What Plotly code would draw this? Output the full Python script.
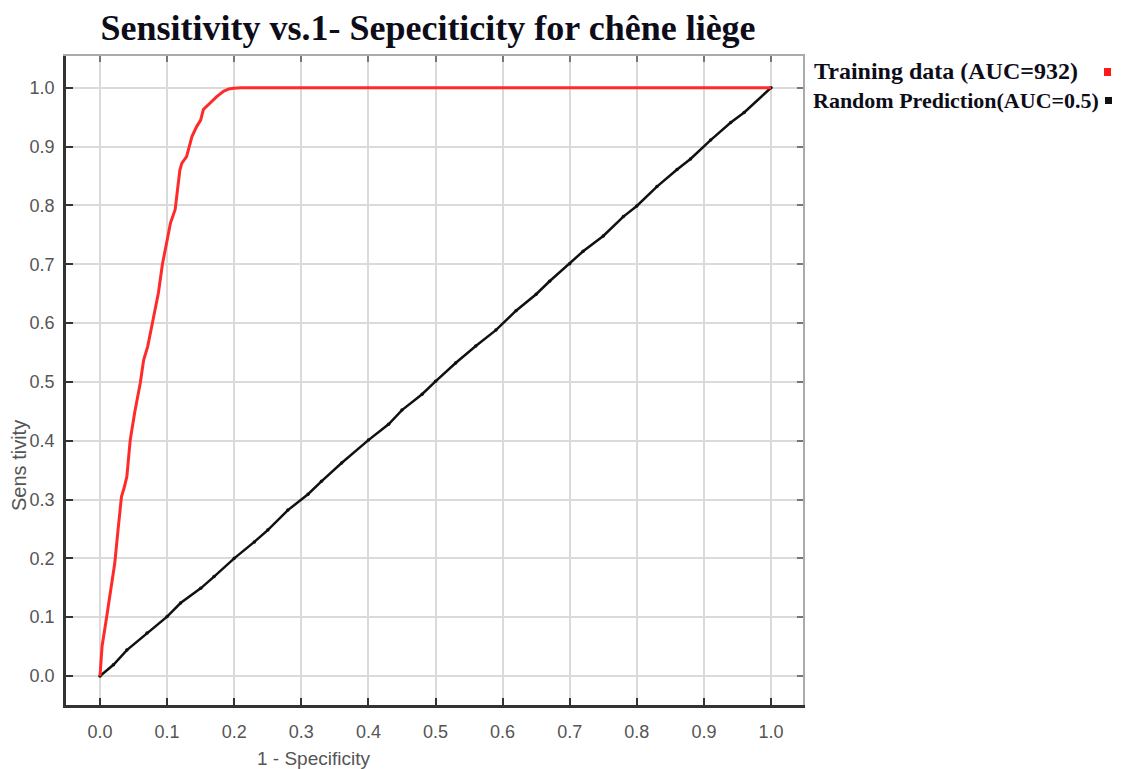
import plotly.graph_objects as go

# Training data ROC curve (1 - specificity, sensitivity)
train_fpr = [0, 0.003, 0.010, 0.016, 0.022, 0.027, 0.032, 0.036, 0.040, 0.045, 0.052, 0.060,
             0.065, 0.071, 0.077, 0.082, 0.087, 0.093, 0.099, 0.105, 0.112, 0.117, 0.119,
             0.122, 0.129, 0.133, 0.137, 0.144, 0.150, 0.154, 0.164, 0.174, 0.184, 0.192,
             0.199, 0.211, 0.25, 0.4, 0.6, 0.8, 1.0]
train_tpr = [0, 0.05, 0.101, 0.15, 0.192, 0.25, 0.305, 0.32, 0.339, 0.401, 0.45, 0.498,
             0.537, 0.560, 0.594, 0.62, 0.651, 0.70, 0.736, 0.77, 0.793, 0.838, 0.86,
             0.872, 0.883, 0.90, 0.917, 0.934, 0.945, 0.963, 0.974, 0.985, 0.994, 0.998,
             0.999, 1.0, 1.0, 1.0, 1.0, 1.0, 1.0]

# Random prediction line
rand_fpr = [0, 0.02, 0.04, 0.07, 0.10, 0.12, 0.15, 0.17, 0.20, 0.23, 0.25, 0.28, 0.31, 0.33,
            0.36, 0.40, 0.43, 0.45, 0.48, 0.50, 0.53, 0.56, 0.59, 0.62, 0.65, 0.67, 0.70,
            0.72, 0.75, 0.78, 0.80, 0.83, 0.86, 0.88, 0.91, 0.94, 0.96, 1.0]
rand_tpr = [0, 0.019, 0.044, 0.073, 0.101, 0.124, 0.149, 0.169, 0.200, 0.228, 0.248, 0.282,
            0.309, 0.331, 0.362, 0.401, 0.428, 0.452, 0.479, 0.501, 0.532, 0.561, 0.588,
            0.621, 0.649, 0.671, 0.701, 0.722, 0.748, 0.781, 0.799, 0.832, 0.861, 0.879,
            0.911, 0.941, 0.958, 1.0]

tick_vals = [0.0, 0.1, 0.2, 0.3, 0.4, 0.5, 0.6, 0.7, 0.8, 0.9, 1.0]
tick_text = ["0.0", "0.1", "0.2", "0.3", "0.4", "0.5", "0.6", "0.7", "0.8", "0.9", "1.0"]

title_text = "Sensitivity vs.1- Sepeciticity for chêne liège"
legend_labels = ["Training data (AUC=932)", "Random Prediction(AUC=0.5)"]
x_title = "1 - Specificity"
y_title = "Sens tivity"

XR = [-0.0507, 1.0477]
YR = [-0.0493, 1.054]

fig = go.Figure()
fig.add_trace(go.Scatter(x=rand_fpr, y=rand_tpr, mode="lines+markers",
                         line=dict(color="#111111", width=2.5),
                         marker=dict(size=3.5, color="#111111"),
                         showlegend=False, hoverinfo="skip"))
fig.add_trace(go.Scatter(x=train_fpr, y=train_tpr, mode="lines",
                         line=dict(color="#ff2b2b", width=3),
                         showlegend=False, hoverinfo="skip"))
# dummy trace for the mirrored top/right frame axes
fig.add_trace(go.Scatter(x=[None], y=[None], xaxis="x2", yaxis="y2",
                         showlegend=False, hoverinfo="skip"))

tickfont = dict(family="Liberation Sans, Arial, sans-serif", size=18, color="#555555")

fig.update_layout(
    width=1122, height=769,
    margin=dict(l=66, r=319, t=56, b=64),
    paper_bgcolor="white", plot_bgcolor="white",
    title=dict(text=title_text, x=428/1122, xanchor="center", xref="container",
               y=1 - 27/769, yanchor="middle", yref="container",
               font=dict(family="Liberation Serif, Times New Roman, serif", size=36,
                         color="#0d0d1a", weight="bold")),
    xaxis=dict(range=XR, tickvals=tick_vals, ticktext=tick_text, showgrid=True,
               gridcolor="#dadada", gridwidth=1.5, zeroline=False,
               showline=True, linecolor="#333333", linewidth=2.5,
               ticks="inside", ticklen=7, tickcolor="#333333", tickwidth=2,
               tickfont=tickfont, ticklabelstandoff=9),
    yaxis=dict(range=YR, tickvals=tick_vals, ticktext=tick_text, showgrid=True,
               gridcolor="#dadada", gridwidth=1.5, zeroline=False,
               showline=True, linecolor="#333333", linewidth=2.5,
               ticks="inside", ticklen=7, tickcolor="#333333", tickwidth=2,
               tickfont=tickfont, ticklabelstandoff=5),
    xaxis2=dict(range=XR, overlaying="x", side="top", tickvals=tick_vals,
                showticklabels=False, showgrid=False, zeroline=False,
                showline=True, linecolor="#aaaaaa", linewidth=1.5,
                ticks="inside", ticklen=6, tickcolor="#777777", tickwidth=1.5),
    yaxis2=dict(range=YR, overlaying="y", side="right", tickvals=tick_vals,
                showticklabels=False, showgrid=False, zeroline=False,
                showline=True, linecolor="#aaaaaa", linewidth=1.5,
                ticks="inside", ticklen=6, tickcolor="#777777", tickwidth=1.5),
)

def px(xp):
    return (xp - 66) / 737

def py(yp):
    return (705 - yp) / 649

annotations = [
    dict(text=x_title, x=px(313), y=py(758), xref="paper", yref="paper",
         xanchor="center", yanchor="middle", showarrow=False,
         font=dict(family="Liberation Sans, Arial, sans-serif", size=19, color="#555555")),
    dict(text=y_title, x=px(19), y=py(466), xref="paper", yref="paper",
         xanchor="center", yanchor="middle", showarrow=False, textangle=-90,
         font=dict(family="Liberation Sans, Arial, sans-serif", size=20, color="#555555")),
    dict(text=legend_labels[0], x=px(812), y=py(71), xref="paper", yref="paper",
         xanchor="left", yanchor="middle", showarrow=False,
         font=dict(family="Liberation Serif, Times New Roman, serif", size=24,
                   color="#0d0d1a", weight="bold")),
    dict(text=legend_labels[1], x=px(811), y=py(100), xref="paper", yref="paper",
         xanchor="left", yanchor="middle", showarrow=False,
         font=dict(family="Liberation Serif, Times New Roman, serif", size=22,
                   color="#0d0d1a", weight="bold")),
]
fig.update_layout(annotations=annotations)

fig.add_shape(type="rect", xref="paper", yref="paper",
              x0=px(1104), x1=px(1111), y0=py(76), y1=py(68),
              fillcolor="#ff1a1a", line=dict(width=0))
fig.add_shape(type="rect", xref="paper", yref="paper",
              x0=px(1105), x1=px(1112), y0=py(104), y1=py(97),
              fillcolor="#111111", line=dict(width=0))

fig.write_html("out.html")
